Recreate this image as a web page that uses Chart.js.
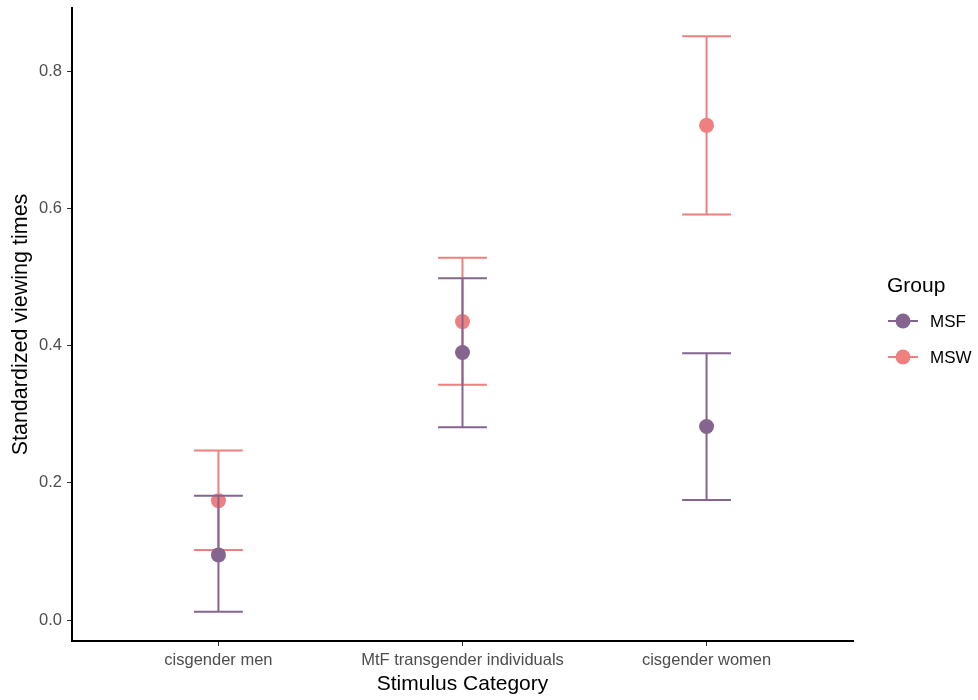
<!DOCTYPE html>
<html>
<head>
<meta charset="utf-8">
<title>Standardized viewing times by stimulus category</title>
<script src="https://cdn.jsdelivr.net/npm/chart.js@4.4.1/dist/chart.umd.min.js"></script>
<style>
    html, body { margin: 0; padding: 0; background: #ffffff; }
    #wrap { width: 978px; height: 700px; }
</style>
</head>
<body>
<div id="wrap"><canvas id="viewChart" width="978" height="700"></canvas></div>
<script>
// Data
const categories = ['cisgender men', 'MtF transgender individuals', 'cisgender women'];
const groups = ['MSF', 'MSW'];

const msfMean  = [0.095, 0.390, 0.282];
const msfLower = [0.012, 0.281, 0.175];
const msfUpper = [0.181, 0.498, 0.389];

const mswMean  = [0.174, 0.435, 0.721];
const mswLower = [0.102, 0.343, 0.591];
const mswUpper = [0.247, 0.528, 0.851];

const yTicks = [0.0, 0.2, 0.4, 0.6, 0.8];

const colors = {
    msf: '#85658f',
    msw: '#f07f7f',
    axis: '#000000',
    tick: '#333333',
    tickText: '#4d4d4d',
    text: '#000000'
};

const fontFamily = "'Liberation Sans', Arial, Helvetica, sans-serif";

// half width of error bar caps, in category units
const capHalf = 0.1;

function makeDataset(label, means, lows, highs, color) {
    return {
        label: label,
        data: means.map((m, i) => ({ x: i + 1, y: m, lo: lows[i], hi: highs[i] })),
        backgroundColor: color,
        borderColor: color,
        borderWidth: 0,
        pointRadius: 7.5,
        pointHoverRadius: 7.5
    };
}

// Error bars drawn under each dataset's points, through the chart scales
const errorBars = {
    id: 'errorBars',
    beforeDatasetDraw(chart, args) {
        const ds = chart.data.datasets[args.index];
        const xs = chart.scales.x;
        const ys = chart.scales.y;
        const ctx = chart.ctx;
        ctx.save();
        ctx.strokeStyle = ds.borderColor;
        ctx.lineWidth = 2;
        ds.data.forEach(p => {
            const xc = xs.getPixelForValue(p.x);
            const xl = xs.getPixelForValue(p.x - capHalf);
            const xr = xs.getPixelForValue(p.x + capHalf);
            const yl = ys.getPixelForValue(p.lo);
            const yh = ys.getPixelForValue(p.hi);
            ctx.beginPath();
            ctx.moveTo(xc, yl); ctx.lineTo(xc, yh);
            ctx.moveTo(xl, yl); ctx.lineTo(xr, yl);
            ctx.moveTo(xl, yh); ctx.lineTo(xr, yh);
            ctx.stroke();
        });
        ctx.restore();
    }
};

// ggplot style legend on the right
const sideLegend = {
    id: 'sideLegend',
    afterDraw(chart) {
        const ctx = chart.ctx;
        const x0 = chart.chartArea.right + 34;
        ctx.save();
        ctx.fillStyle = colors.text;
        ctx.textBaseline = 'middle';
        ctx.textAlign = 'left';
        ctx.font = '21px ' + fontFamily;
        ctx.fillText('Group', x0, 286);
        ctx.font = '17px ' + fontFamily;
        chart.data.datasets.forEach((ds, i) => {
            const y = 321 + i * 36;
            ctx.strokeStyle = ds.borderColor;
            ctx.lineWidth = 2;
            ctx.beginPath();
            ctx.moveTo(x0 + 1, y); ctx.lineTo(x0 + 31, y);
            ctx.stroke();
            ctx.fillStyle = ds.backgroundColor;
            ctx.beginPath();
            ctx.arc(x0 + 16, y, 7.5, 0, Math.PI * 2);
            ctx.fill();
            ctx.fillStyle = colors.text;
            ctx.fillText(ds.label, x0 + 43, y + 1);
        });
        ctx.restore();
    }
};

new Chart(document.getElementById('viewChart'), {
    type: 'scatter',
    data: {
        datasets: [
            makeDataset(groups[0], msfMean, msfLower, msfUpper, colors.msf),
            makeDataset(groups[1], mswMean, mswLower, mswUpper, colors.msw)
        ]
    },
    options: {
        responsive: false,
        animation: false,
        devicePixelRatio: 1,
        layout: { padding: { top: 8, right: 125, left: 0, bottom: 0 } },
        plugins: {
            legend: { display: false },
            tooltip: { enabled: false }
        },
        scales: {
            x: {
                type: 'linear',
                min: 0.4,
                max: 3.6,
                afterBuildTicks: scale => { scale.ticks = categories.map((c, i) => ({ value: i + 1 })); },
                afterFit: scale => {
                    scale.height = 59;
                    scale.paddingLeft = 0;
                    scale.paddingRight = 0;
                },
                grid: { drawOnChartArea: false, drawTicks: true, tickLength: 5, color: colors.tick, tickWidth: 1 },
                border: { display: true, color: colors.axis, width: 2 },
                ticks: {
                    padding: 5,
                    maxRotation: 0,
                    autoSkip: false,
                    color: colors.tickText,
                    font: { family: fontFamily, size: 16.5 },
                    callback: v => categories[Math.round(v) - 1]
                },
                title: {
                    display: true,
                    text: 'Stimulus Category',
                    color: colors.text,
                    font: { family: fontFamily, size: 21 },
                    padding: { top: 0, bottom: 3 }
                }
            },
            y: {
                min: -0.0305,
                max: 0.892,
                afterBuildTicks: scale => { scale.ticks = yTicks.map(v => ({ value: v })); },
                afterFit: scale => {
                    scale.width = 72;
                    scale.paddingTop = 0;
                    scale.paddingBottom = 0;
                },
                grid: { drawOnChartArea: false, drawTicks: true, tickLength: 5, color: colors.tick, tickWidth: 1 },
                border: { display: true, color: colors.axis, width: 2 },
                ticks: {
                    padding: 5,
                    color: colors.tickText,
                    font: { family: fontFamily, size: 16.5 },
                    callback: v => v.toFixed(1)
                },
                title: {
                    display: true,
                    text: 'Standardized viewing times',
                    color: colors.text,
                    font: { family: fontFamily, size: 21.5 },
                    padding: { top: 8, bottom: 0 }
                }
            }
        }
    },
    plugins: [errorBars, sideLegend]
});
</script>
</body>
</html>
